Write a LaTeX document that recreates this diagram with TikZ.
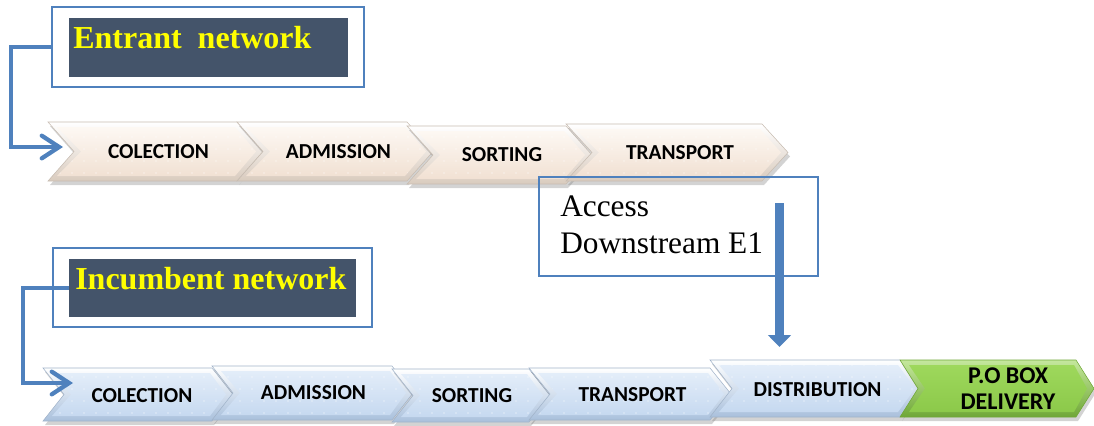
\documentclass[tikz,border=0pt]{standalone}
\usepackage{fontspec}
\setmainfont{Liberation Serif}
\newfontfamily\chevfont{Carlito}
\usetikzlibrary{arrows.meta,shadows,fit,patterns.meta}
\definecolor{boxblue}{RGB}{79,129,189}
\definecolor{darkbox}{HTML}{44546A}
\definecolor{labyellow}{HTML}{FFFF00}
\definecolor{beigeA}{HTML}{FDF8F3}
\definecolor{beigeB}{HTML}{F1E1D3}
\definecolor{beigeE}{HTML}{D9CBBE}
\definecolor{blueA}{HTML}{E3EDF9}
\definecolor{blueB}{HTML}{C6D9F0}
\definecolor{blueE}{HTML}{A9C0DC}
\definecolor{greenA}{HTML}{9ED85C}
\definecolor{greenB}{HTML}{8CC94A}
\definecolor{greenE}{HTML}{6FA737}
\tikzset{
  shadowed/.style={drop shadow={opacity=0.35,shadow xshift=1.5pt,shadow yshift=-3pt}},
  beige outer/.style={shadowed,top color=white,bottom color=beigeE,draw=beigeE!80!gray,line width=0.4pt},
  beige inner/.style={top color=beigeA,bottom color=beigeB,postaction={pattern={Dots[distance=9pt,radius=0.45pt]},pattern color=white}},
  blue outer/.style={shadowed,top color=white,bottom color=blueE,draw=blueE!80!gray,line width=0.4pt},
  blue inner/.style={top color=blueA,bottom color=blueB,postaction={pattern={Dots[distance=9pt,radius=0.45pt]},pattern color=white}},
  green outer/.style={shadowed,top color=greenA!60!white,bottom color=greenE,draw=greenE,line width=0.4pt},
  green inner/.style={top color=greenA,bottom color=greenB},
  chevtext/.style={font=\chevfont\bfseries\fontsize{16}{19.5}\selectfont,inner sep=0pt,align=center,text=black},
  labeltext/.style={font=\bfseries\fontsize{24}{28}\selectfont,text=labyellow,inner sep=0pt},
  acctext/.style={font=\fontsize{23.5}{28}\selectfont,text=black,inner sep=0pt},
  outerbox/.style={draw=boxblue,line width=1.1pt,inner sep=0pt,fill=white},
  innerbox/.style={fill=darkbox,inner sep=0pt},
  conn/.style={draw=boxblue,line width=3.2pt,line join=miter,-{Straight Barb[length=13pt,width=17pt,line cap=round]}},
  bigarrow/.style={draw=boxblue,line width=6.75pt,-{Triangle[length=9pt,width=17pt]}}
}
% #1 x1, #2 x2, #3 top, #4 bottom, #5 depth, #6 colour style
\newcommand\chevpoly[6]{%
  \path[#6 outer] (#1,#3) -- (#2,#3) -- ({#2+#5},{(#3+#4)/2}) -- (#2,#4) -- (#1,#4) -- ({#1+#5},{(#3+#4)/2}) -- cycle;
  \path[#6 inner] ({#1+9},{#3+5}) -- ({#2-2},{#3+5}) -- ({#2+#5-7},{(#3+#4)/2}) -- ({#2-2},{#4-5}) -- ({#1+9},{#4-5}) -- ({#1+#5+7},{(#3+#4)/2}) -- cycle;
}
\begin{document}
\begin{tikzpicture}[x=0.75pt,y=-0.75pt]
\useasboundingbox (0,0) rectangle (1094,425);

% ---------- Entrant network ----------
\node[outerbox,fit={(52,7)(364,87)}] (entouter) {};
\node[innerbox,fit={(69,18)(348,77)}] (entinner) {};
\node[labeltext,anchor=base west] (enttext) at (73,48) {Entrant~~network};

\chevpoly{48}{237}{122}{181}{26}{beige}
\chevpoly{237}{407}{122}{181}{26}{beige}
\chevpoly{407}{566}{126}{184}{26}{beige}
\chevpoly{566}{762}{124}{181}{26}{beige}
\node[chevtext] (e1) at (158.5,151.5) {COLECTION};
\node[chevtext] (e2) at (338.5,151.5) {ADMISSION};
\node[chevtext] (e3) at (502,154.5) {SORTING};
\node[chevtext] (e4) at (680,152.5) {TRANSPORT};
\coordinate (entarrow) at (63,147);
\draw[conn] (entouter.west) -- ++(-40,0) |- (entarrow);

% ---------- Access box ----------
\node[draw=boxblue,line width=1.1pt,inner sep=0pt,fit={(539,177)(818,276)}] (access) {};
\node[acctext,anchor=base west] (acc1) at (560,216) {Access};
\node[acctext,anchor=base west] (acc2) at (560,253) {Downstream E1};

% ---------- Incumbent network ----------
\node[outerbox,fit={(53,248)(372,327)}] (incouter) {};
\node[innerbox,fit={(69,259)(356,317)}] (incinner) {};
\node[labeltext,anchor=base west] (inctext) at (75,289) {Incumbent network};

\chevpoly{43}{212}{368}{421}{21}{blue}
\chevpoly{212}{392}{366}{420}{21}{blue}
\chevpoly{392}{529}{369}{422}{21}{blue}
\chevpoly{529}{710}{368}{420}{21}{blue}
\chevpoly{710}{900}{360}{417}{22}{blue}
\chevpoly{900}{1076}{360}{417}{18}{green}
\node[chevtext] (i1) at (142,395.5) {COLECTION};
\node[chevtext] (i2) at (313.5,393) {ADMISSION};
\node[chevtext] (i3) at (472,395.5) {SORTING};
\node[chevtext] (i4) at (632.5,394.5) {TRANSPORT};
\node[chevtext] (i5) at (817.5,389.5) {DISTRIBUTION};
\node[chevtext,font=\chevfont\bfseries\fontsize{18}{20}\selectfont] (i6) at (1008,388.5) {P.O BOX\\DELIVERY};
\coordinate (incarrow) at (73,383);
\draw[conn] (incinner.west) -- ++(-46,0) |- (incarrow);

% ---------- Downstream access arrow ----------
\coordinate (accstart) at (779.5,203);
\coordinate (disttop) at (779.5,347);
\draw[bigarrow] (accstart) -- (disttop);
\end{tikzpicture}
\end{document}
